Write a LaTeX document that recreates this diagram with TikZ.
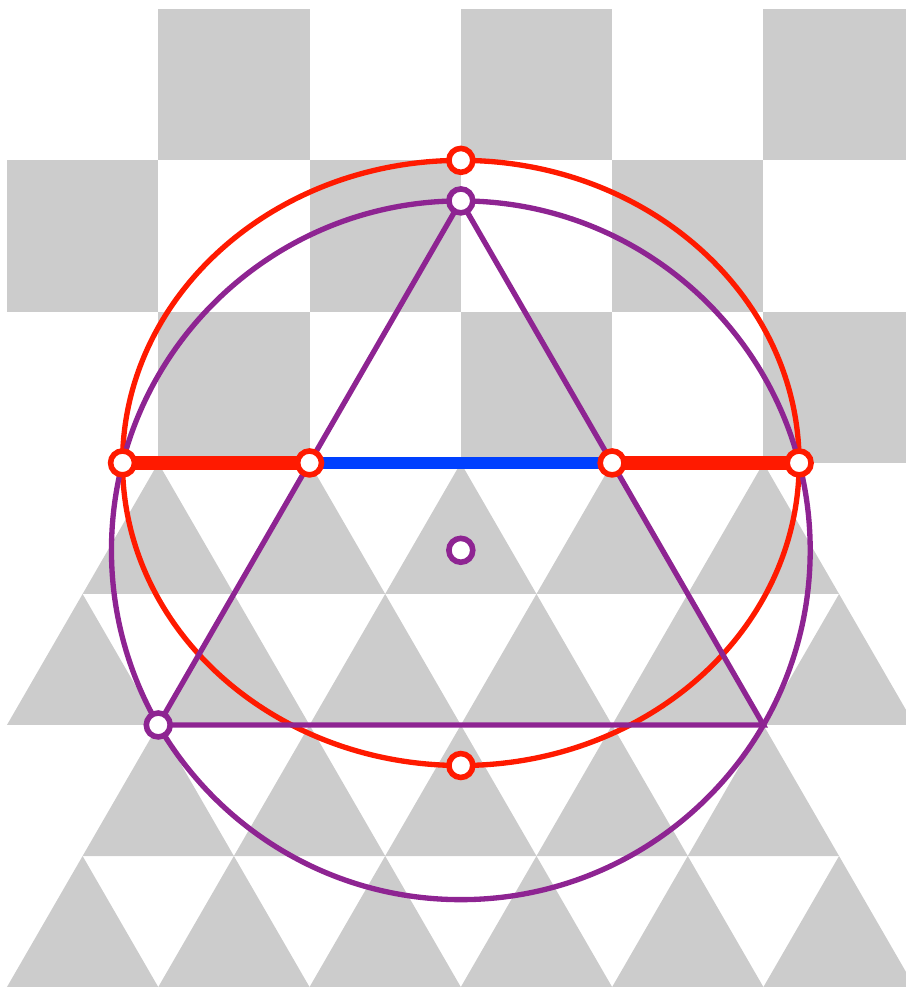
\documentclass[tikz,border=0pt]{standalone}
\usepackage{xcolor}
\usepackage{tikz}
\usetikzlibrary{positioning}
\definecolor{myred}{RGB}{255,26,0}
\definecolor{mypurple}{RGB}{142,36,146}
\definecolor{myblue}{RGB}{0,64,255}
\definecolor{tilegray}{RGB}{204,204,204}
\begin{document}
\begin{tikzpicture}[
          tile/.style={fill=tilegray},
          redline/.style={draw=myred,line width=1pt},
          purpleline/.style={draw=mypurple,line width=1pt},
          redbar/.style={draw=myred,line width=2.5pt},
          bluebar/.style={draw=myblue,line width=2.3pt},
          redpt/.style={circle,draw=myred,fill=white,line width=1.05pt,inner sep=0pt,minimum size=1.58mm},
          purplept/.style={circle,draw=mypurple,fill=white,line width=1.05pt,inner sep=0pt,minimum size=1.58mm}]
          \clip (-0.046,-3.464) rectangle (5.942,3.060);
          % squares
          \foreach \x/\y in {1/0,3/0,5/0,0/1,2/1,4/1,1/2,3/2,5/2}
            \fill[tile] (\x,\y) rectangle +(1,1);
          % triangles
          \foreach \r in {0,2} {
            \foreach \k in {1,...,5}
              \fill[tile] (\k,{-\r*sqrt(3)/2}) -- ++(-0.5,{-sqrt(3)/2}) -- ++(1,0) -- cycle;
            \foreach \k in {0,...,5}
              \fill[tile] (\k+0.5,{-(\r+1)*sqrt(3)/2}) -- ++(-0.5,{-sqrt(3)/2}) -- ++(1,0) -- cycle;
          }
          \coordinate (top) at (3,{sqrt(3)});
          \coordinate (left) at (1,{-sqrt(3)});
          \coordinate (right) at (5,{-sqrt(3)});
          \coordinate (centre) at (3,{-sqrt(3)/3});
          \coordinate (west) at ({3-sqrt(5)},0);
          \coordinate (east) at ({3+sqrt(5)},0);
          \coordinate (north) at (3,2);
          \coordinate (south) at (3,-2);
          \coordinate (p) at (2,0);
          \coordinate (q) at (4,0);
          \draw[redline] (3,0) ellipse [x radius={sqrt(5)},y radius=2];
          \draw[purpleline] (centre) circle [radius={4/sqrt(3)}];
          \draw[purpleline] (top) -- (left) -- (right) -- cycle;
          \draw[redbar] (west) -- (p); \draw[bluebar] (p) -- (q);
          \draw[redbar] (q) -- (east);
          \node[redpt] (n-north) at (north) {};
          \node[redpt] (n-south) at (south) {};
          \node[redpt] (n-west) at (west) {};
          \node[redpt] (n-east) at (east) {};
          \node[redpt] (n-p) at (p) {};
          \node[redpt] (n-q) at (q) {};
          \node[purplept] (n-top) at (top) {};
          \node[purplept] (n-centre) at (centre) {};
          \node[purplept] (n-left) at (left) {};
        \end{tikzpicture}
\end{document}
